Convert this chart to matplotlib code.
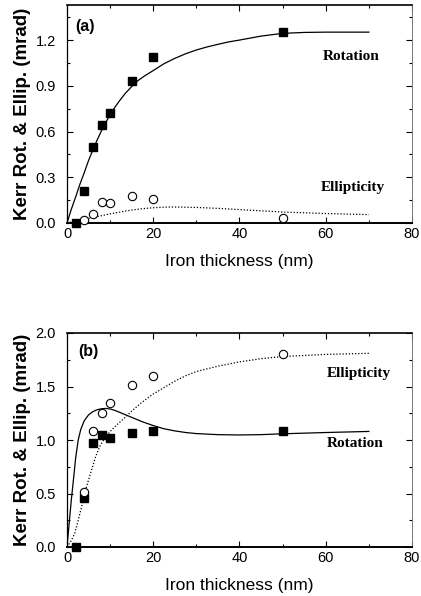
import matplotlib
matplotlib.use("Agg")
import matplotlib.pyplot as plt
from matplotlib.ticker import MultipleLocator

# ---------------- data: panel (a) ----------------
a_rot_x = [2, 4, 6, 8, 10, 15, 20, 50]
a_rot_y = [0.0, 0.21, 0.50, 0.64, 0.72, 0.93, 1.09, 1.25]
a_ell_x = [4, 6, 8, 10, 15, 20, 50]
a_ell_y = [0.02, 0.06, 0.14, 0.13, 0.18, 0.16, 0.03]
a_rotfit_x = [0, 1, 2, 3, 4, 5, 6, 7, 8, 9, 10, 11, 12, 13.5, 15, 16.5, 18, 20, 22.5,
              25, 27.5, 30, 32.5, 35, 37.5, 40, 45, 50, 55, 60, 70]
a_rotfit_y = [0.0, 0.09, 0.17, 0.255, 0.33, 0.41, 0.48, 0.545, 0.605, 0.66, 0.71, 0.755,
              0.795, 0.85, 0.895, 0.935, 0.965, 1.0, 1.045, 1.08, 1.11, 1.135, 1.155,
              1.172, 1.188, 1.20, 1.226, 1.244, 1.25, 1.252, 1.252]
a_ellfit_x = [0, 2.5, 5, 7.5, 10, 12.5, 15, 17.5, 20, 22.5, 25, 30, 35, 40, 45, 50, 60, 70]
a_ellfit_y = [0.0, 0.015, 0.03, 0.045, 0.06, 0.073, 0.085, 0.094, 0.100, 0.104, 0.105,
              0.102, 0.096, 0.088, 0.080, 0.072, 0.062, 0.055]

# ---------------- data: panel (b) ----------------
b_rot_x = [2, 4, 6, 8, 10, 15, 20, 50]
b_rot_y = [0.0, 0.46, 0.97, 1.05, 1.02, 1.07, 1.08, 1.08]
b_ell_x = [4, 6, 8, 10, 15, 20, 50]
b_ell_y = [0.51, 1.08, 1.25, 1.35, 1.51, 1.60, 1.80]
b_rotfit_x = [0, 0.5, 1.0, 1.5, 2.0, 2.6, 3.2, 4, 5, 6, 7, 8, 9, 10, 11, 12, 13, 14.5,
              16, 17.5, 20, 22.5, 25, 27.5, 30, 35, 40, 45, 50, 60, 70]
b_rotfit_y = [0.0, 0.22, 0.44, 0.63, 0.83, 1.0, 1.10, 1.18, 1.235, 1.265, 1.283, 1.292,
              1.295, 1.29, 1.278, 1.262, 1.245, 1.22, 1.195, 1.17, 1.135, 1.105, 1.085,
              1.07, 1.06, 1.05, 1.047, 1.05, 1.058, 1.07, 1.08]
b_ellfit_x = [0, 1, 1.8, 2.6, 3.4, 4.5, 5.7, 6.6, 7.6, 8.8, 10, 11.5, 12.9, 15, 17,
              18.3, 20, 22.5, 25, 27.5, 30, 35, 40, 45, 50, 60, 70]
b_ellfit_y = [0.0, 0.06, 0.13, 0.25, 0.38, 0.56, 0.72, 0.84, 0.94, 1.02, 1.08, 1.14,
              1.19, 1.27, 1.34, 1.38, 1.43, 1.49, 1.55, 1.60, 1.64, 1.69, 1.73, 1.76,
              1.78, 1.80, 1.81]

xticks = [0, 20, 40, 60, 80]

W, H = 421, 596
fig = plt.figure(figsize=(W / 100, H / 100), dpi=100)
L, R = 67, 412

def style_axes(ax, ymax, ymajor, yfmt):
    ax.set_xlim(0, 80)
    ax.set_ylim(0, ymax)
    ax.set_xticks(xticks)
    ax.xaxis.set_minor_locator(MultipleLocator(10))
    ax.yaxis.set_major_locator(MultipleLocator(ymajor))
    ax.yaxis.set_minor_locator(MultipleLocator(ymajor / 2))
    ax.yaxis.set_major_formatter(yfmt)
    ax.tick_params(which="both", direction="in", top=True, right=True)
    ax.tick_params(which="major", length=4, width=0.8, labelsize=10.5)
    ax.tick_params(axis="y", which="major", pad=8)
    ax.tick_params(axis="x", which="major", pad=3)
    ax.tick_params(which="minor", length=2.5, width=0.8)
    for lab in ax.get_xticklabels() + ax.get_yticklabels():
        lab.set_fontfamily("Liberation Sans")
    ax.spines["bottom"].set_linewidth(1.4)
    ax.spines["top"].set_linewidth(1.2)
    ax.spines["left"].set_linewidth(0.9)
    ax.spines["right"].set_linewidth(0.7)
    ax.spines["right"].set_color("#777777")
    ax.set_xlabel("Iron thickness (nm)", fontsize=12.5, family="Liberation Sans", labelpad=9)
    ax.set_ylabel("Kerr Rot. & Ellip. (mrad)", fontsize=13.5, family="Liberation Sans",
                  fontweight="bold", labelpad=3)

sq = dict(linestyle="none", marker="s", markersize=5.5, color="black", clip_on=False, zorder=5)
ci = dict(linestyle="none", marker="o", markersize=6, markerfacecolor="white",
          markeredgecolor="black", markeredgewidth=0.8, clip_on=False, zorder=5)
ann = dict(fontsize=11, family="Liberation Serif", fontweight="bold", va="center", ha="left")
lab = dict(fontsize=11.5, family="Liberation Sans", fontweight="bold", va="center", ha="left")

# ---- panel (a) ----
axa = fig.add_axes([L / W, 1 - 223 / H, (R - L) / W, 218 / H])
axa.plot(a_rotfit_x, a_rotfit_y, color="black", lw=0.9)
axa.plot(a_ellfit_x, a_ellfit_y, color="black", lw=0.9, linestyle=(0, (1, 1.5)))
axa.plot(a_rot_x, a_rot_y, **sq)
axa.plot(a_ell_x, a_ell_y, **ci)
style_axes(axa, 1.43, 0.3, "{x:.1f}")
axa.text(59.3, 1.09, "Rotation", **ann)
axa.text(58.9, 0.23, "Ellipticity", **ann)
axa.text(1.8, 1.29, "(a)", **lab)

# ---- panel (b) ----
axb = fig.add_axes([L / W, 1 - 547 / H, (R - L) / W, 214 / H])
axb.plot(b_rotfit_x, b_rotfit_y, color="black", lw=0.9)
axb.plot(b_ellfit_x, b_ellfit_y, color="black", lw=0.9, linestyle=(0, (1, 1.5)))
axb.plot(b_rot_x, b_rot_y, **sq)
axb.plot(b_ell_x, b_ell_y, **ci)
style_axes(axb, 2.0, 0.5, "{x:.1f}")
axb.text(60.3, 1.62, "Ellipticity", **ann)
axb.text(60.3, 0.97, "Rotation", **ann)
axb.text(2.6, 1.83, "(b)", **lab)

fig.savefig("out.png", dpi=100)
